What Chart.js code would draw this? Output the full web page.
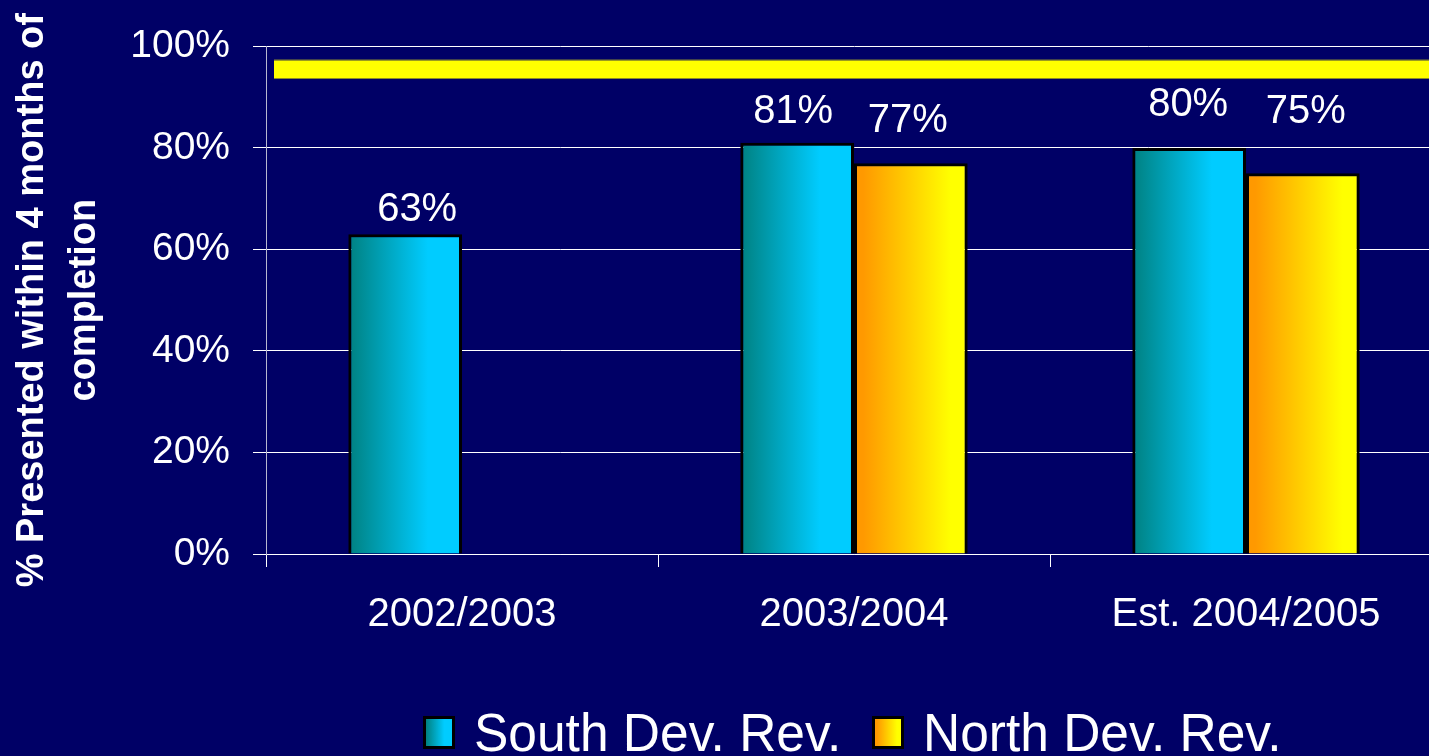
<!DOCTYPE html>
<html>
<head>
<meta charset="utf-8">
<script src="https://cdn.jsdelivr.net/npm/chart.js@4/dist/chart.umd.min.js"></script>
<style>
  html, body { margin: 0; padding: 0; background: #000066; overflow: hidden; width: 1429px; height: 756px; }
  #wrap { position: relative; width: 1442px; height: 756px; }
  #chart { display: block; }
  #legend {
    position: absolute; left: 423px; top: 702px; height: 60px;
    display: flex; align-items: center; white-space: nowrap;
    font-family: "Liberation Sans", Arial, sans-serif; font-size: 52px; color: #fff;
  }
  .item { display: flex; align-items: center; margin-right: 27px; }
  .box { width: 32px; height: 33px; box-sizing: border-box; border: 3px solid #000; margin-right: 19px; }
  .txt { display: inline-block; line-height: 1; transform: scale(0.99, 1.04); transform-origin: left center; }
</style>
</head>
<body>
<div id="wrap">
  <canvas id="chart" width="1442" height="756"></canvas>
  <div id="legend"></div>
</div>
<script>
// Fiscal years and the share of files presented within 4 months of completion
const categories = ['2002/2003', '2003/2004', 'Est. 2004/2005'];
const seriesNames = ['South Dev. Rev.', 'North Dev. Rev.'];
const southValues = [63, 81, 80];
const northValues = [null, 77, 75];
const yTickValues = [0, 20, 40, 60, 80, 100];
const targetValue = 95.5;
const axisTitle = ['% Presented within 4 months of', 'completion'];

const FONT = '"Liberation Sans", Arial, sans-serif';
const CAT_PCT = 0.58;
const Y_AXIS_WIDTH = 266;

// left-to-right fills for each series
const fills = [
  [[0, '#008080'], [0.7, '#00CCFF'], [1, '#00CCFF']],
  [[0.08, '#FF9900'], [0.85, '#FFFF00'], [1, '#FFFF00']]
];

// per-label nudges: [dx, gap above bar top to baseline]
const labelNudges = [
  [[12, 13], [-4, 20], [-1, 32]],
  [null, [-3, 31], [3, 50]]
];

function barFill(seriesIndex) {
  return (ctx) => {
    const chart = ctx.chart;
    const xs = chart.scales.x;
    if (!xs || !chart.chartArea) return fills[seriesIndex][0][1];
    const center = xs.getPixelForValue(ctx.dataIndex);
    const catSize = xs.width / categories.length;
    const barW = catSize * CAT_PCT / 2;
    const left = seriesIndex === 0 ? center - barW : center;
    const g = chart.ctx.createLinearGradient(left, 0, left + barW, 0);
    fills[seriesIndex].forEach(([o, c]) => g.addColorStop(o, c));
    return g;
  };
}

// thick yellow target line across the plot
const targetLine = {
  id: 'targetLine',
  beforeDatasetsDraw(chart) {
    const { ctx, chartArea, scales } = chart;
    const y = scales.y.getPixelForValue(targetValue);
    const h = 19;
    ctx.save();
    ctx.fillStyle = '#FFFF00';
    ctx.fillRect(chartArea.left + 8, y - h / 2, chart.width, h);
    ctx.strokeStyle = 'rgba(128,128,40,0.8)';
    ctx.lineWidth = 1;
    ctx.beginPath();
    ctx.moveTo(chartArea.left + 8, Math.round(y - h / 2) + 0.5);
    ctx.lineTo(chart.width, Math.round(y - h / 2) + 0.5);
    ctx.moveTo(chartArea.left + 8, Math.round(y + h / 2) - 0.5);
    ctx.lineTo(chart.width, Math.round(y + h / 2) - 0.5);
    ctx.stroke();
    ctx.restore();
  }
};

// value labels above the bars
const valueLabels = {
  id: 'valueLabels',
  afterDatasetsDraw(chart) {
    const { ctx } = chart;
    ctx.save();
    ctx.fillStyle = '#ffffff';
    ctx.font = '40px ' + FONT;
    ctx.textAlign = 'center';
    ctx.textBaseline = 'alphabetic';
    chart.data.datasets.forEach((ds, di) => {
      chart.getDatasetMeta(di).data.forEach((bar, i) => {
        const v = ds.data[i];
        if (v === null || v === undefined) return;
        const n = (labelNudges[di] && labelNudges[di][i]) || [0, 20];
        ctx.fillText(v + '%', bar.x + n[0], bar.y - n[1]);
      });
    });
    ctx.restore();
  }
};

const chart = new Chart(document.getElementById('chart'), {
  type: 'bar',
  data: {
    labels: categories,
    datasets: [
      { label: seriesNames[0], data: southValues, backgroundColor: barFill(0),
        borderColor: '#000000', borderWidth: 3, categoryPercentage: CAT_PCT, barPercentage: 1 },
      { label: seriesNames[1], data: northValues, backgroundColor: barFill(1),
        borderColor: '#000000', borderWidth: 3, categoryPercentage: CAT_PCT, barPercentage: 1 }
    ]
  },
  options: {
    responsive: false,
    animation: false,
    layout: { padding: { top: 45, right: 0, bottom: 93, left: 0 } },
    plugins: { legend: { display: false }, tooltip: { enabled: false } },
    scales: {
      x: {
        offset: true,
        grid: { offset: true, drawOnChartArea: false, drawTicks: true, tickLength: 13, color: '#ffffff' },
        border: { color: '#ffffff', width: 1 },
        ticks: { color: '#ffffff', font: { family: FONT, size: 40 }, padding: 24, maxRotation: 0 }
      },
      y: {
        min: yTickValues[0],
        max: yTickValues[yTickValues.length - 1],
        afterBuildTicks: (scale) => { scale.ticks = yTickValues.map(v => ({ value: v })); },
        afterFit: (scale) => { scale.width = Y_AXIS_WIDTH; },
        ticks: { color: '#ffffff', font: { family: FONT, size: 39 }, padding: 23,
                 callback: (v) => v + '%' },
        grid: { color: '#ffffff', tickLength: 13 },
        border: { color: '#b8b8d0', width: 1 },
        title: {
          display: true, text: axisTitle, color: '#ffffff',
          font: { family: FONT, size: 38, weight: 'bold', lineHeight: 1.37 },
          padding: { top: 6, bottom: 10 }
        }
      }
    }
  },
  plugins: [targetLine, valueLabels]
});

// legend row
const legend = document.getElementById('legend');
seriesNames.forEach((name, i) => {
  const item = document.createElement('div');
  item.className = 'item';
  const box = document.createElement('span');
  box.className = 'box';
  box.style.background = 'linear-gradient(to right, ' +
    fills[i].map(([o, c]) => c + ' ' + Math.round(o * 100) + '%').join(', ') + ')';
  const txt = document.createElement('span');
  txt.className = 'txt';
  txt.textContent = name;
  item.appendChild(box);
  item.appendChild(txt);
  legend.appendChild(item);
});
</script>
</body>
</html>
